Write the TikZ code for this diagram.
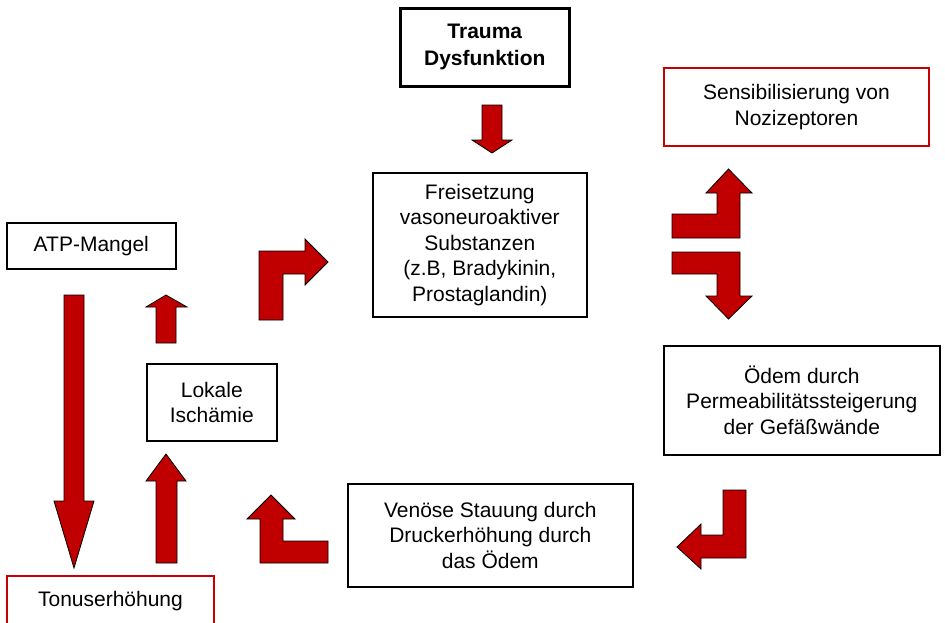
\documentclass[tikz,border=0pt]{standalone}
\usepackage{fontspec}
\setmainfont{Liberation Sans}
\definecolor{arrowred}{RGB}{192,0,0}
\definecolor{boxred}{RGB}{200,0,0}
\begin{document}
\begin{tikzpicture}[x=1pt,y=-1pt,
  box/.style={draw=black,line width=1.6pt,align=center,inner sep=0pt,anchor=north west,
    font=\fontsize{21}{25.5}\selectfont},
  redbox/.style={box,draw=boxred,line width=1.9pt},
  blockarrow/.style={fill=arrowred,draw=black,line width=0.8pt,line join=miter}]
\clip (0,0) rectangle (945,622);
\fill[white] (0,0) rectangle (945,622);

% boxes
\node[box,line width=2.6pt,minimum width=169pt,minimum height=78pt,
  font=\fontsize{21}{27}\selectfont\bfseries] (trauma) at (399,7) {Trauma\\Dysfunktion};
\node[redbox,minimum width=265pt,minimum height=78pt] (sens) at (663,67) {Sensibilisierung von\\Nozizeptoren};
\node[box,minimum width=214pt,minimum height=144pt] (frei) at (372,172)
  {Freisetzung\\vasoneuroaktiver\\Substanzen\\(z.B, Bradykinin,\\Prostaglandin)};
\node[box,minimum width=169pt,minimum height=46pt] (atp) at (6,222) {ATP-Mangel};
\node[box,minimum width=130pt,minimum height=77pt] (lokal) at (146,363) {Lokale\\Ischämie};
\node[box,minimum width=276pt,minimum height=109pt] (oedem) at (663,345)
  {Ödem durch\\Permeabilitätssteigerung\\der Gefäßwände};
\node[box,minimum width=285pt,minimum height=103pt] (venoes) at (347,483)
  {Venöse Stauung durch\\Druckerhöhung durch\\das Ödem};
\node[redbox,minimum width=207pt,minimum height=50pt] (tonus) at (6,575) {Tonuserhöhung};

% block arrows
% Trauma -> Freisetzung
\draw[blockarrow] (482,105) -- (502,105) -- (502,140) -- (512,140) -- (492,153) -- (472,140) -- (482,140) -- cycle;
% small up arrow above Lokale Ischaemie
\draw[blockarrow] (156,343) -- (156,307) -- (146,307) -- (166,295) -- (187,307) -- (176,307) -- (176,343) -- cycle;
% Lokale Ischaemie -> Freisetzung (L)
\draw[blockarrow] (259,320) -- (259,251) -- (305,251) -- (305,239) -- (328,262) -- (305,285) -- (305,274) -- (283,274) -- (283,320) -- cycle;
% Freisetzung -> Sensibilisierung (L up)
\draw[blockarrow] (672,214) -- (717,214) -- (717,193) -- (706,193) -- (728.5,169) -- (752,193) -- (740,193) -- (740,238) -- (672,238) -- cycle;
% Freisetzung -> Oedem (L down)
\draw[blockarrow] (672,252) -- (740,252) -- (740,296) -- (752,296) -- (728.5,319) -- (706,296) -- (717,296) -- (717,274) -- (672,274) -- cycle;
% Oedem -> Venoese Stauung (L left)
\draw[blockarrow] (723,490) -- (746,490) -- (746,558) -- (701,558) -- (701,569) -- (677,547) -- (701,524) -- (701,535) -- (723,535) -- cycle;
% Venoese Stauung -> Lokale Ischaemie (L up)
\draw[blockarrow] (328,541) -- (328,563) -- (260,563) -- (260,519) -- (247,519) -- (271,495) -- (295,519) -- (283,519) -- (283,541) -- cycle;
% Tonuserhoehung -> Lokale Ischaemie
\draw[blockarrow] (156,563) -- (156,481) -- (146,481) -- (166,454) -- (186,481) -- (177,481) -- (177,563) -- cycle;
% ATP-Mangel -> Tonuserhoehung
\draw[blockarrow] (64,295) -- (84,295) -- (84,501) -- (94,501) -- (74,568) -- (54,501) -- (64,501) -- cycle;
\end{tikzpicture}
\end{document}
